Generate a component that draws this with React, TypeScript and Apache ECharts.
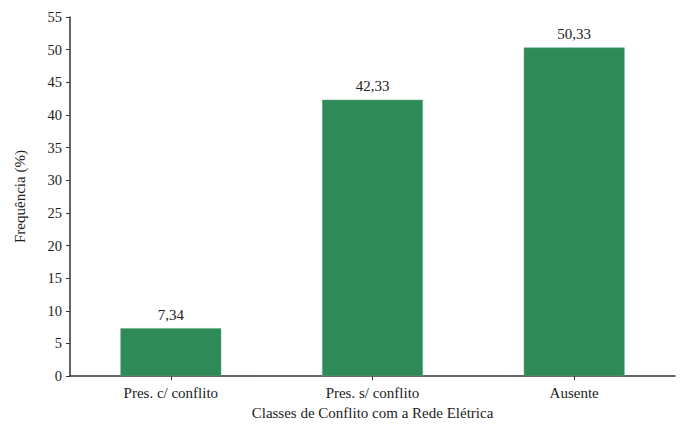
import React, { useEffect, useRef } from "react";
import * as echarts from "echarts";

const categories = ["Pres. c/ conflito", "Pres. s/ conflito", "Ausente"];
const values = [7.34, 42.33, 50.33];
const yTicks = { min: 0, max: 55, interval: 5 };
const xTitle = "Classes de Conflito com a Rede Elétrica";
const yTitle = "Frequência (%)";

const FONT = "Liberation Serif";

export default function App() {
  const ref = useRef<HTMLDivElement>(null);
  useEffect(() => {
    if (!ref.current) return;
    const chart = echarts.init(ref.current, undefined, { renderer: "svg" });
    chart.setOption({
      animation: false,
      backgroundColor: "#ffffff",
      textStyle: { fontFamily: FONT },
      grid: { left: 70, right: 6, top: 17, bottom: 48, containLabel: false },
      xAxis: {
        type: "category",
        data: categories,
        name: xTitle,
        nameLocation: "middle",
        nameGap: 28,
        nameTextStyle: { fontFamily: FONT, fontSize: 15, color: "#222" },
        axisLine: { lineStyle: { color: "#333", width: 1.5 } },
        axisTick: { show: true, alignWithLabel: true, length: 4, lineStyle: { color: "#333" } },
        axisLabel: { fontFamily: FONT, fontSize: 15, color: "#222", margin: 9 },
      },
      yAxis: {
        type: "value",
        min: yTicks.min,
        max: yTicks.max,
        interval: yTicks.interval,
        name: yTitle,
        nameLocation: "middle",
        nameGap: 43,
        nameRotate: 90,
        nameTextStyle: { fontFamily: FONT, fontSize: 15, color: "#222" },
        axisLine: { show: true, lineStyle: { color: "#333", width: 1.5 } },
        axisTick: { show: true, length: 4, lineStyle: { color: "#333" } },
        axisLabel: { fontFamily: FONT, fontSize: 14.5, color: "#222", margin: 8 },
        splitLine: { show: false },
      },
      series: [
        {
          type: "bar",
          data: values,
          barWidth: "50%",
          itemStyle: { color: "#2e8b57", borderColor: "#5fa97f", borderWidth: 0.5 },
          label: {
            show: true,
            position: "top",
            distance: 6,
            fontFamily: FONT,
            fontSize: 15,
            color: "#222",
            formatter: (p: any) => String(p.value.toFixed(2)).replace(".", ","),
          },
        },
      ],
    });
    return () => chart.dispose();
  }, []);
  return <div ref={ref} style={{ width: 681, height: 425, position: "absolute", left: 0, top: 0 }} />;
}
